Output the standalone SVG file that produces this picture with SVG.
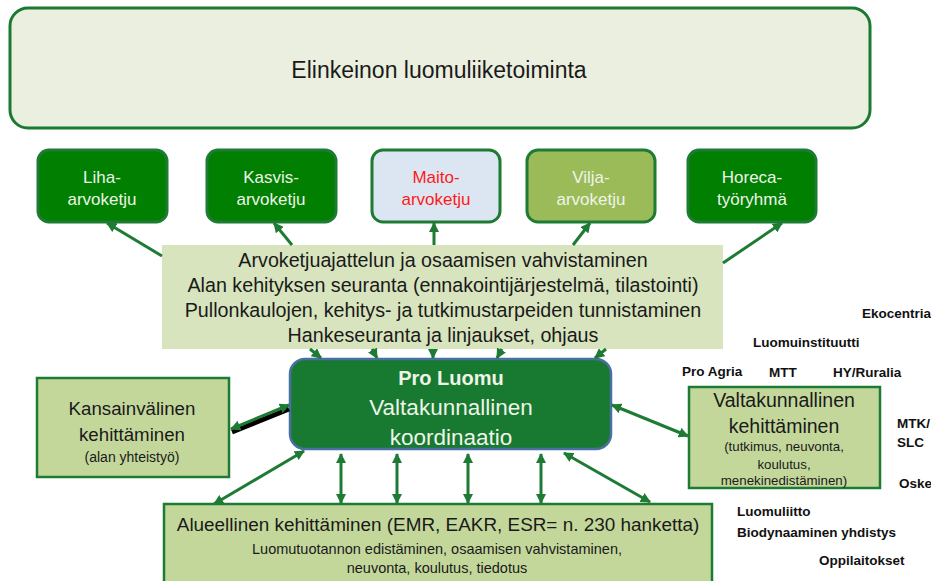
<svg xmlns="http://www.w3.org/2000/svg" width="931" height="581" viewBox="0 0 931 581">
<defs>
<marker id="ah" viewBox="0 0 10 10" refX="9" refY="5" markerWidth="3.4" markerHeight="3.4" orient="auto-start-reverse" markerUnits="strokeWidth">
<path d="M0,0 L10,5 L0,10 z" fill="#1e7b34"/>
</marker>
<style>
text{font-family:"Liberation Sans",Arial,sans-serif;text-anchor:middle}
.dk{fill:#1a1a1a}
.wt{fill:#eef4e8}
.con{stroke:#1e7b34;stroke-width:3;fill:none}
.lab{font-weight:bold;font-size:13.5px;fill:#111;text-anchor:start}
.vc{stroke:#1e7b34;stroke-width:3}
.vt{font-size:17px}
</style>
</defs>
<rect width="931" height="581" fill="#ffffff"/>

<g id="top">
<rect x="10" y="8" width="860" height="120" rx="18" fill="#ebefdf" stroke="#1a7a32" stroke-width="3"/>
<text x="439" y="78" font-size="23" class="dk">Elinkeinon luomuliiketoiminta</text>
</g>

<g id="liha">
<rect x="38" y="150" width="129" height="72" rx="11" fill="#007f00" class="vc"/>
<text x="102" y="183" class="wt vt">Liha-</text>
<text x="102" y="205" class="wt vt">arvoketju</text>
</g>
<g id="kasvis">
<rect x="207" y="150" width="129" height="72" rx="11" fill="#007f00" class="vc"/>
<text x="271" y="183" class="wt vt">Kasvis-</text>
<text x="271" y="205" class="wt vt">arvoketju</text>
</g>
<g id="maito">
<rect x="372" y="150" width="128" height="72" rx="11" fill="#dce6f2" class="vc"/>
<text x="436" y="183" class="vt" fill="#ff1a1a">Maito-</text>
<text x="436" y="205" class="vt" fill="#ff1a1a">arvoketju</text>
</g>
<g id="vilja">
<rect x="527" y="150" width="128" height="72" rx="11" fill="#9bbb59" class="vc"/>
<text x="591" y="183" class="wt vt">Vilja-</text>
<text x="591" y="205" class="wt vt">arvoketju</text>
</g>
<g id="horeca">
<rect x="688" y="150" width="128" height="72" rx="11" fill="#007f00" class="vc"/>
<text x="752" y="183" class="wt vt">Horeca-</text>
<text x="752" y="205" class="wt vt">työryhmä</text>
</g>

<g id="tasks">
<rect x="162" y="245" width="561" height="104" fill="#d7e4bd"/>
<text x="443" y="267" font-size="19.7" class="dk">Arvoketjuajattelun ja osaamisen vahvistaminen</text>
<text x="443" y="292" font-size="19.7" class="dk">Alan kehityksen seuranta (ennakointijärjestelmä, tilastointi)</text>
<text x="443" y="317" font-size="19.7" class="dk">Pullonkaulojen, kehitys- ja tutkimustarpeiden tunnistaminen</text>
<text x="443" y="342" font-size="19.7" class="dk">Hankeseuranta ja linjaukset, ohjaus</text>
</g>

<g id="proluomu">
<rect x="290" y="359" width="321" height="90" rx="15" fill="#177a30" stroke="#4a6fa5" stroke-width="2.5"/>
<text x="451" y="385" font-size="20" font-weight="bold" class="wt">Pro Luomu</text>
<text x="451" y="415" font-size="22.5" class="wt">Valtakunnallinen</text>
<text x="451" y="445" font-size="22.5" class="wt">koordinaatio</text>
</g>

<g id="kansainvalinen">
<rect x="37" y="378" width="192" height="99" fill="#c4d79b" stroke="#1e7b34" stroke-width="2.5"/>
<text x="132" y="415" font-size="18.7" class="dk">Kansainvälinen</text>
<text x="132" y="441" font-size="18.7" class="dk">kehittäminen</text>
<text x="132" y="462" font-size="14" class="dk">(alan yhteistyö)</text>
</g>

<g id="valtakunnallinen">
<rect x="689" y="387" width="191" height="101" fill="#c4d79b" stroke="#1e7b34" stroke-width="2.5"/>
<text x="784" y="407" font-size="19.5" class="dk">Valtakunnallinen</text>
<text x="784" y="433" font-size="19.5" class="dk">kehittäminen</text>
<text x="784" y="451" font-size="13.3" class="dk">(tutkimus, neuvonta,</text>
<text x="784" y="469" font-size="13.3" class="dk">koulutus,</text>
<text x="784" y="485" font-size="13.3" class="dk">menekinedistäminen)</text>
</g>

<g id="alueellinen">
<rect x="164" y="504" width="548" height="90" fill="#c4d79b" stroke="#1e7b34" stroke-width="2.5"/>
<text x="438" y="531" font-size="18.9" class="dk">Alueellinen kehittäminen (EMR, EAKR, ESR= n. 230 hanketta)</text>
<text x="437" y="554" font-size="14.5" class="dk">Luomutuotannon edistäminen, osaamisen vahvistaminen,</text>
<text x="437" y="573" font-size="14.5" class="dk">neuvonta, koulutus, tiedotus</text>
</g>

<g id="labels">
<text x="862" y="318" class="lab">Ekocentria</text>
<text x="753" y="347" class="lab">Luomuinstituutti</text>
<text x="682" y="376" class="lab">Pro Agria</text>
<text x="769" y="377" class="lab">MTT</text>
<text x="833" y="377" class="lab">HY/Ruralia</text>
<text x="897" y="428" class="lab">MTK/</text>
<text x="897" y="447" class="lab">SLC</text>
<text x="899" y="488" class="lab">Oske</text>
<text x="737" y="516" class="lab">Luomuliitto</text>
<text x="737" y="537" class="lab">Biodynaaminen yhdistys</text>
<text x="819" y="565" class="lab">Oppilaitokset</text>
</g>

<g id="connectors">
<line x1="162" y1="256" x2="107" y2="223" class="con" marker-end="url(#ah)"/>
<line x1="292" y1="245" x2="274" y2="223" class="con" marker-end="url(#ah)"/>
<line x1="434" y1="245" x2="434" y2="223" class="con" marker-end="url(#ah)"/>
<line x1="573" y1="245" x2="590" y2="223" class="con" marker-end="url(#ah)"/>
<line x1="723" y1="263" x2="782" y2="223" class="con" marker-end="url(#ah)"/>

<line x1="310" y1="349" x2="321" y2="358" class="con" marker-end="url(#ah)"/>
<line x1="372" y1="349" x2="377" y2="358" class="con" marker-end="url(#ah)"/>
<line x1="433" y1="349" x2="433" y2="358" class="con" marker-end="url(#ah)"/>
<line x1="502" y1="349" x2="497" y2="358" class="con" marker-end="url(#ah)"/>
<line x1="606" y1="349" x2="595" y2="358" class="con" marker-end="url(#ah)"/>

<line x1="232" y1="432" x2="289" y2="409" stroke="#000" stroke-width="5"/>
<line x1="231" y1="429" x2="289" y2="405" class="con" marker-start="url(#ah)" marker-end="url(#ah)"/>

<line x1="612" y1="405" x2="688" y2="436" class="con" marker-start="url(#ah)" marker-end="url(#ah)"/>

<line x1="304" y1="451" x2="214" y2="504" class="con" marker-start="url(#ah)" marker-end="url(#ah)"/>
<line x1="341" y1="454" x2="341" y2="503" class="con" marker-start="url(#ah)" marker-end="url(#ah)"/>
<line x1="397" y1="454" x2="397" y2="503" class="con" marker-start="url(#ah)" marker-end="url(#ah)"/>
<line x1="468" y1="454" x2="468" y2="503" class="con" marker-start="url(#ah)" marker-end="url(#ah)"/>
<line x1="541" y1="454" x2="541" y2="503" class="con" marker-start="url(#ah)" marker-end="url(#ah)"/>
<line x1="564" y1="453" x2="650" y2="502" class="con" marker-start="url(#ah)" marker-end="url(#ah)"/>
</g>
</svg>
